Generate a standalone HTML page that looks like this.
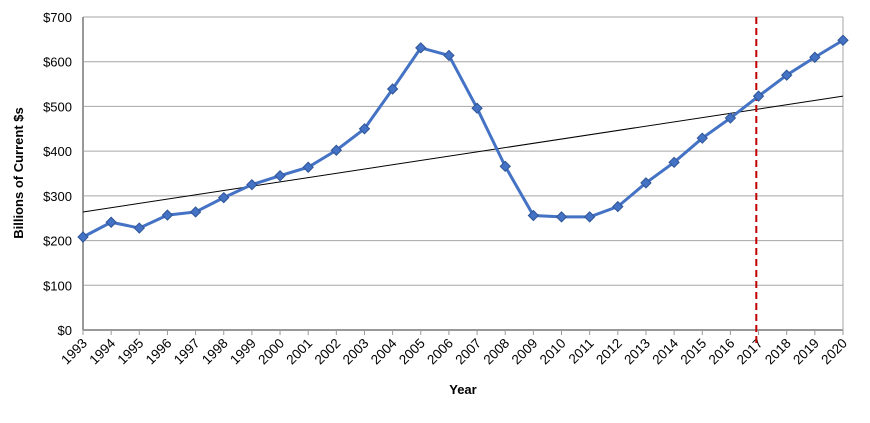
<!DOCTYPE html>
<html><head><meta charset="utf-8"><style>
body{margin:0;background:#fff;font-family:"Liberation Sans",sans-serif}
text{font-family:"Liberation Sans",sans-serif}
</style></head><body>
<svg id="c" width="870" height="418"></svg>
<script>
const years=[1993,1994,1995,1996,1997,1998,1999,2000,2001,2002,2003,2004,2005,2006,2007,2008,2009,2010,2011,2012,2013,2014,2015,2016,2017,2018,2019,2020];
const values=[208,241,228,257,264,296,325,345,364,402,450,539,631,614,496,366,256,253,253,276,329,375,429,474,523,570,610,648];
const trendStart=264, trendEnd=523;
const yTicks=[0,100,200,300,400,500,600,700];
const forecastYear=2016.92;
const NS="http://www.w3.org/2000/svg";
const svg=document.getElementById('c');
const X0=83,X1=843,Y0=330,Y1=17;
const xs=i=>X0+(X1-X0)*i/(years.length-1);
const xy=yr=>X0+(X1-X0)*(yr-years[0])/(years[years.length-1]-years[0]);
const ys=v=>Y0-(Y0-Y1)*v/700;
function el(t,a,p){const e=document.createElementNS(NS,t);for(const k in a)e.setAttribute(k,a[k]);(p||svg).appendChild(e);return e;}
yTicks.forEach(v=>{
 const g=el('line',{x1:X0,x2:X1,y1:ys(v),y2:ys(v),stroke:v==0?'#999':'#a6a6a6','stroke-width':v==0?2:1});
 
 
 const t=el('text',{x:72,y:ys(v)+5,'text-anchor':'end','font-size':13});
 t.textContent='$'+v;
 
 
});
const ax=el('line',{x1:X0,x2:X0,y1:Y1,y2:Y0,stroke:'#999','stroke-width':2});


const r=el('line',{x1:X1,x2:X1,y1:Y1,y2:Y0,stroke:'#a6a6a6','stroke-width':1});


years.forEach((y,i)=>{
 const x=xs(i);
 const tk=el('line',{x1:x,x2:x,y1:Y0,y2:Y0+5,stroke:'#999'});
 
 
 const t=el('text',{x:x+5,y:Y0+14,'text-anchor':'end','font-size':13.5,transform:`rotate(-45 ${x+5} ${Y0+14})`});
 t.textContent=y;
 
 
});
const tr=el('line',{x1:xs(0),x2:xs(years.length-1),y1:ys(trendStart),y2:ys(trendEnd),stroke:'#000','stroke-width':1});


const fl=el('line',{x1:xy(forecastYear),x2:xy(forecastYear),y1:Y1,y2:Y0+14,stroke:'#c00000','stroke-width':2,'stroke-dasharray':'7,4'});


const pl=el('polyline',{points:values.map((v,i)=>xs(i)+','+ys(v)).join(' '),fill:'none',stroke:'#4472c4','stroke-width':3});


values.forEach((v,i)=>{
 const x=xs(i),y=ys(v);
 const m=el('polygon',{points:`${x},${y-5} ${x+5},${y} ${x},${y+5} ${x-5},${y}`,fill:'#4472c4',stroke:'#2f5597','stroke-width':1});
 
 
});
const yt=el('text',{x:23,y:173,'text-anchor':'middle','font-size':13,'font-weight':'bold',transform:'rotate(-90 23 173)'});
yt.textContent='Billions of Current $s';


const xt=el('text',{x:463,y:394,'text-anchor':'middle','font-size':13,'font-weight':'bold'});
xt.textContent='Year';


</script>
</body></html>
